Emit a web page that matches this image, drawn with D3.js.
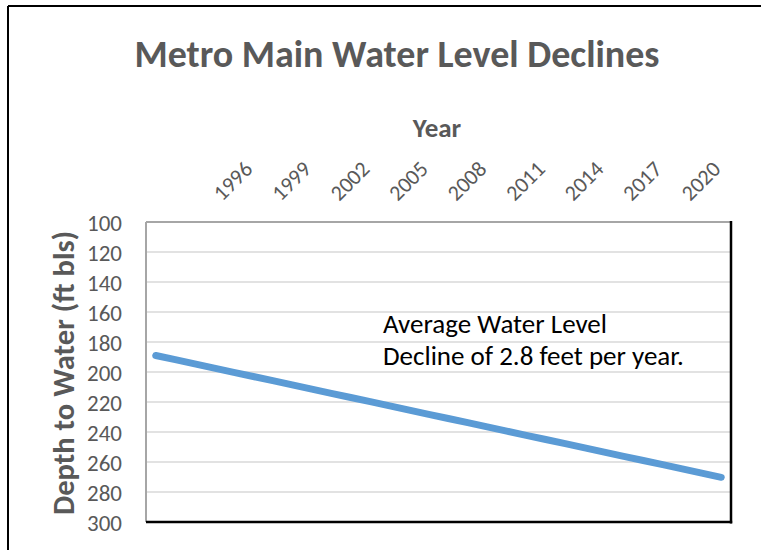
<!DOCTYPE html>
<html>
<head>
<meta charset="utf-8">
<script src="https://cdn.jsdelivr.net/npm/d3@7"></script>
<style>
  html, body { margin: 0; padding: 0; background: #fff; }
  svg { display: block; font-family: Carlito, Lato, "Open Sans", sans-serif; }
</style>
</head>
<body>
<svg id="chart" width="761" height="550"></svg>
<script>
// ---- data ----
const years = [1993,1994,1995,1996,1997,1998,1999,2000,2001,2002,2003,2004,2005,2006,2007,
               2008,2009,2010,2011,2012,2013,2014,2015,2016,2017,2018,2019,2020,2021,2022];
const depthTrend = [189.0,191.8,194.6,197.4,200.2,203.0,205.8,208.6,211.4,214.2,217.0,219.8,222.6,225.4,228.2,
                    231.0,233.8,236.6,239.4,242.2,245.0,247.8,250.6,253.4,256.2,259.0,261.8,264.6,267.4,270.2];
const xTickLabels = [1996,1999,2002,2005,2008,2011,2014,2017,2020];
const yTicks = [100,120,140,160,180,200,220,240,260,280,300];
const titleText = "Metro Main Water Level Declines";
const xTitle = "Year";
const yTitle = "Depth to Water (ft bls)";
const noteLines = ["Average Water Level", "Decline of 2.8 feet per year."];

// ---- layout ----
const FONT = "Carlito, Lato, 'Open Sans', sans-serif";
const svg = d3.select("#chart");
const plot = {left: 146, right: 731, top: 222, bottom: 522};

// outer frame (top and left edges visible)
svg.append("line").attr("x1", 8).attr("x2", 761).attr("y1", 6).attr("y2", 6)
  .attr("stroke", "#000").attr("stroke-width", 2);
svg.append("line").attr("x1", 8).attr("x2", 8).attr("y1", 6).attr("y2", 550)
  .attr("stroke", "#000").attr("stroke-width", 2);

const x = d3.scaleBand().domain(years).range([plot.left, plot.right]);
const y = d3.scaleLinear().domain([100, 300]).range([plot.top, plot.bottom]);

// gridlines
svg.append("g").selectAll("line").data(yTicks.filter(d => d > 100 && d < 300)).join("line")
  .attr("x1", plot.left).attr("x2", plot.right)
  .attr("y1", d => y(d)).attr("y2", d => y(d))
  .attr("stroke", "#d9d9d9").attr("stroke-width", 1.3);

// y axis labels
const yAxis = d3.axisLeft(y).tickValues(yTicks).tickSize(0).tickPadding(0);
const gy = svg.append("g").attr("transform", `translate(${plot.left - 24},0)`).call(yAxis);
gy.attr("font-family", FONT).attr("font-size", 23);
gy.select(".domain").remove();
gy.selectAll("text").attr("fill", "#595959").attr("dy", "0.36em");

// x axis (top) labels, rotated
const xAxis = d3.axisTop(x).tickValues(xTickLabels).tickSize(0).tickPadding(0);
const gx = svg.append("g").attr("transform", `translate(0,${plot.top - 20})`).call(xAxis);
gx.attr("font-family", FONT).attr("font-size", 22);
gx.select(".domain").remove();
gx.selectAll("text")
  .attr("fill", "#595959")
  .attr("text-anchor", "start").attr("dy", 0).attr("y", 0)
  .attr("transform", "translate(8,0) rotate(-45)");

// plot area border: gray top/left, black right/bottom
svg.append("line").attr("x1", plot.left).attr("x2", plot.right).attr("y1", plot.top).attr("y2", plot.top)
  .attr("stroke", "#a6a6a6").attr("stroke-width", 2);
svg.append("line").attr("x1", plot.left).attr("x2", plot.left).attr("y1", plot.top).attr("y2", plot.bottom)
  .attr("stroke", "#a6a6a6").attr("stroke-width", 2);
svg.append("line").attr("x1", plot.right).attr("x2", plot.right).attr("y1", plot.top - 1).attr("y2", plot.bottom + 1.5)
  .attr("stroke", "#000").attr("stroke-width", 2.5);
svg.append("line").attr("x1", plot.left).attr("x2", plot.right + 1.2).attr("y1", plot.bottom).attr("y2", plot.bottom)
  .attr("stroke", "#000").attr("stroke-width", 2.5);

// trend line
const line = d3.line().x((d, i) => x(years[i]) + x.bandwidth() / 2).y(d => y(d));
svg.append("path").datum(depthTrend).attr("d", line)
  .attr("fill", "none").attr("stroke", "#5b9bd5").attr("stroke-width", 7)
  .attr("stroke-linecap", "round");

// annotation
svg.append("g").selectAll("text").data(noteLines).join("text")
  .attr("x", 383).attr("y", (d, i) => 333 + i * 32)
  .attr("font-size", 27).attr("fill", "#000").text(d => d);

// titles
svg.append("text").attr("x", 397).attr("y", 67).attr("text-anchor", "middle")
  .attr("font-size", 38).attr("font-weight", "bold").attr("fill", "#595959").text(titleText);
svg.append("text").attr("x", 437).attr("y", 137).attr("text-anchor", "middle")
  .attr("font-size", 27).attr("font-weight", "bold").attr("fill", "#595959").text(xTitle);
svg.append("text").attr("transform", `translate(74,373) rotate(-90)`).attr("text-anchor", "middle")
  .attr("font-size", 30.5).attr("font-weight", "bold").attr("fill", "#595959").text(yTitle);
</script>
</body>
</html>
